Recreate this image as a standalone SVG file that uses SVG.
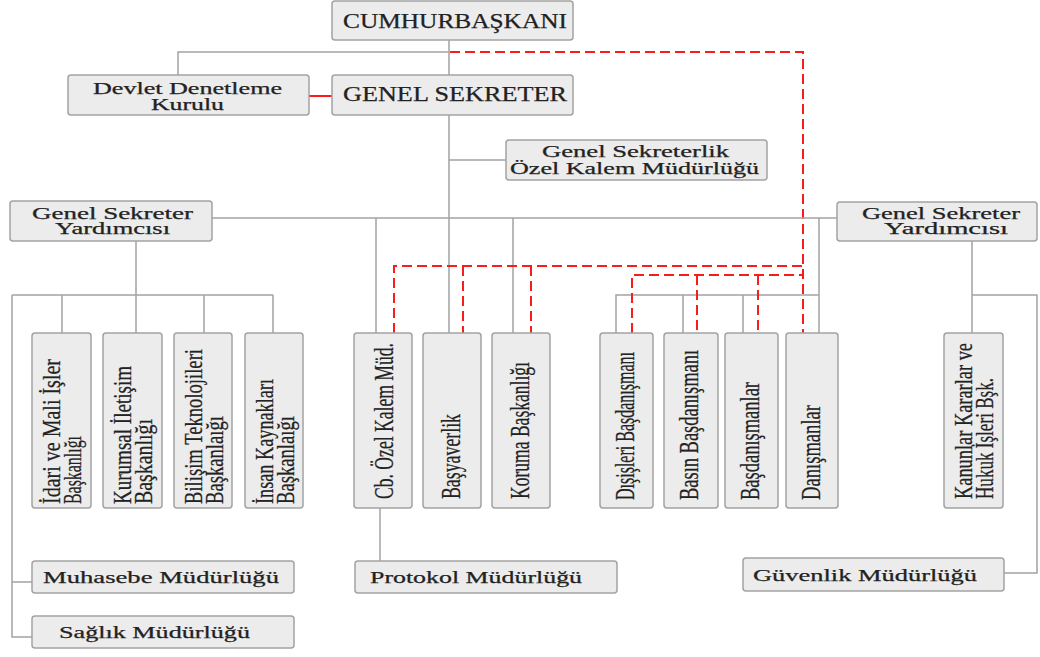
<svg xmlns="http://www.w3.org/2000/svg" width="1040" height="657" viewBox="0 0 1040 657">
<style>
.box{fill:#ececec;stroke:#a2a2a2;stroke-width:1.5}
.ln{fill:none;stroke:#a3a3a3;stroke-width:1.5}
.rd{fill:none;stroke:#ff1a1a;stroke-width:2;stroke-dasharray:10 5}
.rs{fill:none;stroke:#ff1a1a;stroke-width:2}
text{font-family:"Liberation Serif","Times New Roman",serif;fill:#222222;stroke:#222222;stroke-width:0.25}
.h{font-size:21px}
.m{font-size:16px}
.b{font-size:17px}
.v{font-size:27px}
.v2{font-size:25px}
</style>
<rect width="1040" height="657" fill="#ffffff"/>
<g id="connectors">
  <path class="ln" d="M449,40 V75 M178,75 V52 H449"/>
  <path class="rd" d="M450,52 H803 V333"/>
  <path class="rs" d="M309,96 H332"/>
  <path class="ln" d="M449,115 V333 M449,160 H506"/>
  <path class="ln" d="M212,218 H837"/>
  <path class="ln" d="M376,218 V333 M513,218 V333 M819,218 V333"/>
  <path class="ln" d="M136,241 V295 M12,295 H273 M62,295 V333 M204,295 V333 M273,295 V333 M136,295 V333"/>
  <path class="ln" d="M12,295 V637 H32 M12,582 H32"/>
  <path class="ln" d="M616,333 V295 H819 M683,295 V333 M743,295 V333"/>
  <path class="rd" d="M394,333 V266 H803 M463,266 V333 M531,266 V333"/>
  <path class="rd" d="M632,333 V275 H803 M697,275 V333 M758,275 V333"/>
  <path class="ln" d="M972,241 V333 M972,295 H1037 V573 H1004"/>
  <path class="ln" d="M380,508 V561"/>
</g>
<g id="cumhurbaskani">
  <rect class="box" x="332" y="1" width="241" height="39" rx="3"/>
  <text class="h" x="343" y="28" textLength="224" lengthAdjust="spacingAndGlyphs">CUMHURBAŞKANI</text>
</g>
<g id="devlet-denetleme-kurulu">
  <rect class="box" x="68" y="75" width="241" height="40" rx="3"/>
  <text class="m" x="93" y="94" textLength="189" lengthAdjust="spacingAndGlyphs">Devlet Denetleme</text>
  <text class="m" x="151" y="110" textLength="73" lengthAdjust="spacingAndGlyphs">Kurulu</text>
</g>
<g id="genel-sekreter">
  <rect class="box" x="332" y="75" width="241" height="40" rx="3"/>
  <text class="h" x="343" y="101" textLength="224" lengthAdjust="spacingAndGlyphs">GENEL SEKRETER</text>
</g>
<g id="ozel-kalem-genel-sekreterlik">
  <rect class="box" x="506" y="140" width="261" height="40" rx="3"/>
  <text class="m" x="542" y="157" textLength="187" lengthAdjust="spacingAndGlyphs">Genel Sekreterlik</text>
  <text class="m" x="510" y="174" textLength="249" lengthAdjust="spacingAndGlyphs">Özel Kalem Müdürlüğü</text>
</g>
<g id="gsy-left">
  <rect class="box" x="10" y="201" width="202" height="40" rx="3"/>
  <text class="m" x="32" y="219" textLength="161" lengthAdjust="spacingAndGlyphs">Genel Sekreter</text>
  <text class="m" x="55" y="234" textLength="115" lengthAdjust="spacingAndGlyphs">Yardımcısı</text>
</g>
<g id="gsy-right">
  <rect class="box" x="837" y="202" width="200" height="39" rx="3"/>
  <text class="m" x="862" y="219" textLength="158" lengthAdjust="spacingAndGlyphs">Genel Sekreter</text>
  <text class="m" x="884" y="234" textLength="124" lengthAdjust="spacingAndGlyphs">Yardımcısı</text>
</g>
<g id="idari-mali">
  <rect class="box" x="32" y="333" width="59" height="175" rx="3"/>
  <text class="v2" transform="translate(60,504) rotate(-90)" textLength="145" lengthAdjust="spacingAndGlyphs">İdari ve Mali İşler</text>
  <text class="v2" transform="translate(81,504) rotate(-90)" textLength="68" lengthAdjust="spacingAndGlyphs">Başkanlığı</text>
</g>
<g id="kurumsal-iletisim">
  <rect class="box" x="103" y="333" width="59" height="175" rx="3"/>
  <text class="v2" transform="translate(131,504) rotate(-90)" textLength="138" lengthAdjust="spacingAndGlyphs">Kurumsal İletişim</text>
  <text class="v2" transform="translate(152,504) rotate(-90)" textLength="85" lengthAdjust="spacingAndGlyphs">Başkanlığı</text>
</g>
<g id="bilisim">
  <rect class="box" x="174" y="333" width="58" height="175" rx="3"/>
  <text class="v2" transform="translate(202,504) rotate(-90)" textLength="155" lengthAdjust="spacingAndGlyphs">Bilişim Teknolojileri</text>
  <text class="v2" transform="translate(223,504) rotate(-90)" textLength="88" lengthAdjust="spacingAndGlyphs">Başkanlaığı</text>
</g>
<g id="insan-kaynaklari">
  <rect class="box" x="245" y="333" width="58" height="175" rx="3"/>
  <text class="v2" transform="translate(273,504) rotate(-90)" textLength="125" lengthAdjust="spacingAndGlyphs">İnsan Kaynakları</text>
  <text class="v2" transform="translate(294,504) rotate(-90)" textLength="88" lengthAdjust="spacingAndGlyphs">Başkanlaığı</text>
</g>
<g id="cb-ozel-kalem">
  <rect class="box" x="354" y="333" width="58" height="175" rx="3"/>
  <text class="v" transform="translate(393,499) rotate(-90)" textLength="156" lengthAdjust="spacingAndGlyphs">Cb. Özel Kalem Müd.</text>
</g>
<g id="basyaverlik">
  <rect class="box" x="423" y="333" width="58" height="175" rx="3"/>
  <text class="v" transform="translate(460,499) rotate(-90)" textLength="85" lengthAdjust="spacingAndGlyphs">Başyaverlik</text>
</g>
<g id="koruma">
  <rect class="box" x="492" y="333" width="58" height="175" rx="3"/>
  <text class="v" transform="translate(529,499) rotate(-90)" textLength="137" lengthAdjust="spacingAndGlyphs">Koruma Başkanlığı</text>
</g>
<g id="disisleri">
  <rect class="box" x="600" y="333" width="53" height="175" rx="3"/>
  <text class="v" transform="translate(634,500) rotate(-90)" textLength="148" lengthAdjust="spacingAndGlyphs">Dışişleri Başdanışmanı</text>
</g>
<g id="basin">
  <rect class="box" x="664" y="333" width="54" height="175" rx="3"/>
  <text class="v" transform="translate(698,500) rotate(-90)" textLength="150" lengthAdjust="spacingAndGlyphs">Basın Başdanışmanı</text>
</g>
<g id="basdanismanlar">
  <rect class="box" x="725" y="333" width="53" height="175" rx="3"/>
  <text class="v" transform="translate(759,500) rotate(-90)" textLength="118" lengthAdjust="spacingAndGlyphs">Başdanışmanlar</text>
</g>
<g id="danismanlar">
  <rect class="box" x="786" y="333" width="52" height="175" rx="3"/>
  <text class="v" transform="translate(820,500) rotate(-90)" textLength="95" lengthAdjust="spacingAndGlyphs">Danışmanlar</text>
</g>
<g id="kanunlar-kararlar">
  <rect class="box" x="944" y="333" width="59" height="175" rx="3"/>
  <text class="v2" transform="translate(972,499) rotate(-90)" textLength="156" lengthAdjust="spacingAndGlyphs">Kanunlar Kararlar ve</text>
  <text class="v2" transform="translate(993,499) rotate(-90)" textLength="121" lengthAdjust="spacingAndGlyphs">Hukuk İşleri Bşk.</text>
</g>
<g id="muhasebe">
  <rect class="box" x="32" y="561" width="262" height="32" rx="3"/>
  <text class="b" x="43" y="583" textLength="236" lengthAdjust="spacingAndGlyphs">Muhasebe Müdürlüğü</text>
</g>
<g id="saglik">
  <rect class="box" x="32" y="616" width="262" height="32" rx="3"/>
  <text class="b" x="59" y="638" textLength="191" lengthAdjust="spacingAndGlyphs">Sağlık Müdürlüğü</text>
</g>
<g id="protokol">
  <rect class="box" x="355" y="561" width="262" height="32" rx="3"/>
  <text class="b" x="370" y="583" textLength="212" lengthAdjust="spacingAndGlyphs">Protokol Müdürlüğü</text>
</g>
<g id="guvenlik">
  <rect class="box" x="743" y="558" width="261" height="33" rx="3"/>
  <text class="b" x="753" y="581" textLength="224" lengthAdjust="spacingAndGlyphs">Güvenlik Müdürlüğü</text>
</g>
</svg>
